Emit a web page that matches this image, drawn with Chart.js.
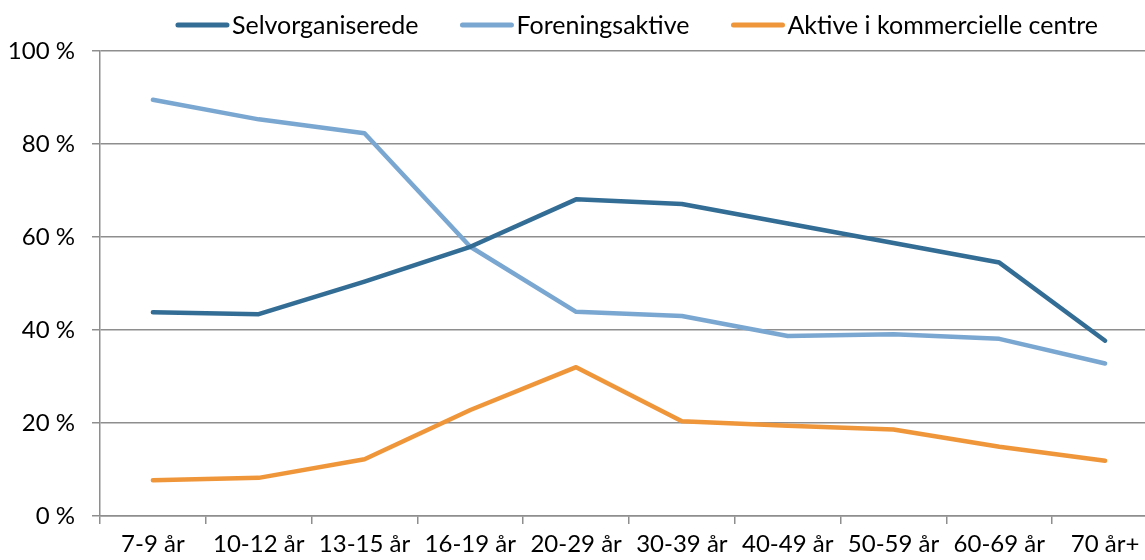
<!DOCTYPE html>
<html>
<head>
<meta charset="utf-8">
<script src="https://cdn.jsdelivr.net/npm/chart.js@4"></script>
<style>
  html, body { margin: 0; padding: 0; background: #fff; overflow: hidden; width: 1145px; height: 560px; }
  #wrap { position: absolute; left: 0; top: 0; width: 1160px; height: 560px; }
</style>
</head>
<body>
<div id="wrap"><canvas id="c" width="1160" height="560"></canvas></div>
<script>
const categories = ['7-9 år', '10-12 år', '13-15 år', '16-19 år', '20-29 år', '30-39 år', '40-49 år', '50-59 år', '60-69 år', '70 år+'];
const seriesNames = ['Selvorganiserede', 'Foreningsaktive', 'Aktive i kommercielle centre'];
const selvorganiserede = [43.8, 43.4, 50.4, 57.9, 68.1, 67.1, 62.9, 58.7, 54.5, 37.7];
const foreningsaktive = [89.5, 85.3, 82.3, 57.9, 43.9, 43.0, 38.7, 39.1, 38.1, 32.8];
const kommercielle = [7.7, 8.2, 12.2, 22.8, 32.0, 20.4, 19.4, 18.6, 14.9, 11.9];
const yTicks = [0, 20, 40, 60, 80, 100];

const colors = ['#336D95', '#7AA7D1', '#F0963A'];
const FONT = 'Lato, "Open Sans", sans-serif';
const FS = 24;
const LEGEND_FS = 25;
const gridColor = '#8E8E8E';

const legendPlugin = {
  id: 'customLegend',
  afterDraw(chart) {
    const ctx = chart.ctx;
    ctx.save();
    ctx.font = LEGEND_FS + 'px ' + FONT;
    ctx.textBaseline = 'middle';
    const lineLen = 53, gapText = 3, gapItem = 42, y = 25;
    const items = chart.data.datasets.map(d => ({ label: d.label, color: d.borderColor, w: ctx.measureText(d.label).width }));
    let total = 0;
    items.forEach((it, i) => { total += lineLen + gapText + it.w + (i < items.length - 1 ? gapItem : 0); });
    let x = 637 - total / 2;
    items.forEach(it => {
      ctx.strokeStyle = it.color;
      ctx.lineWidth = 5;
      ctx.lineCap = 'round';
      ctx.beginPath();
      ctx.moveTo(x + 2, y);
      ctx.lineTo(x + lineLen - 2, y);
      ctx.stroke();
      ctx.fillStyle = '#000';
      ctx.fillText(it.label, x + lineLen + gapText, y + 1);
      x += lineLen + gapText + it.w + gapItem;
    });
    ctx.restore();
  }
};

const mk = (label, data, color) => ({
  label, data,
  borderColor: color, backgroundColor: color,
  borderWidth: 4.5, pointRadius: 0, pointHoverRadius: 0,
  borderCapStyle: 'round', borderJoinStyle: 'round', tension: 0, fill: false
});

new Chart(document.getElementById('c'), {
  type: 'line',
  data: {
    labels: categories,
    datasets: [
      mk(seriesNames[0], selvorganiserede, colors[0]),
      mk(seriesNames[1], foreningsaktive, colors[1]),
      mk(seriesNames[2], kommercielle, colors[2])
    ]
  },
  options: {
    responsive: false,
    animation: false,
    devicePixelRatio: 1,
    layout: { padding: { top: 51, left: 0, right: 2, bottom: 0 } },
    plugins: { legend: { display: false }, tooltip: { enabled: false } },
    scales: {
      x: {
        type: 'category',
        offset: true,
        grid: { display: true, offset: true, drawOnChartArea: false, drawTicks: true, tickLength: 8, color: gridColor, lineWidth: 1.5 },
        border: { display: true, color: gridColor, width: 1.5 },
        ticks: { color: '#000', font: { family: FONT, size: FS }, padding: 6, maxRotation: 0, autoSkip: false },
        afterFit(scale) { scale.height = 44; }
      },
      y: {
        min: 0, max: 100,
        afterBuildTicks(scale) { scale.ticks = yTicks.map(v => ({ value: v })); },
        grid: { color: gridColor, lineWidth: 1.5, drawTicks: true, tickLength: 8 },
        border: { display: true, color: gridColor, width: 1.5 },
        ticks: { color: '#000', font: { family: FONT, size: FS }, padding: 17, callback: v => v + ' %' },
        afterFit(scale) { scale.width = 100; }
      }
    }
  },
  plugins: [legendPlugin]
});
</script>
</body>
</html>
